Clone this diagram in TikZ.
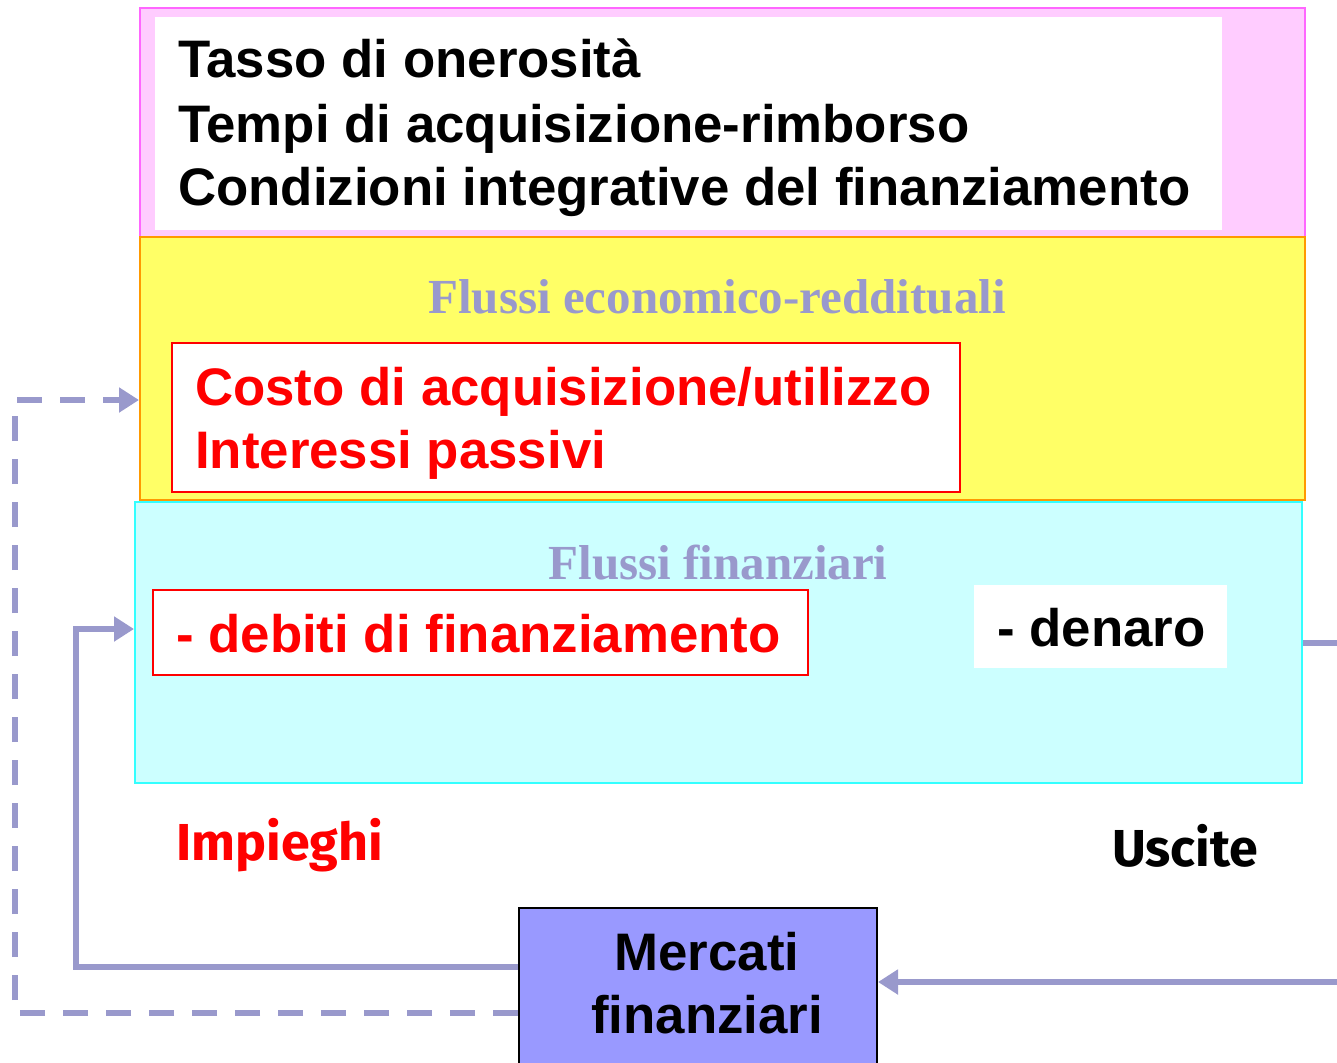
\documentclass[tikz,border=0pt]{standalone}
\usepackage{fontspec}
\setmainfont{Liberation Sans}
\newfontfamily\serifface{Liberation Serif}
\newfontfamily\comicface{Fira Sans}
\usetikzlibrary{arrows.meta}
\definecolor{pinkfill}{HTML}{FFCCFF}
\definecolor{pinkline}{HTML}{FF66FF}
\definecolor{yelfill}{HTML}{FFFF66}
\definecolor{orangeline}{HTML}{FF9900}
\definecolor{cyanfill}{HTML}{CCFFFF}
\definecolor{cyanline}{HTML}{33FFFF}
\definecolor{lav}{HTML}{9999CC}
\definecolor{mktfill}{HTML}{9999FF}
\definecolor{redtxt}{HTML}{FF0000}
\tikzset{
  bigtxt/.style={font=\fontsize{52.8}{60}\selectfont\bfseries, inner sep=0pt, anchor=base west},
  sertxt/.style={font=\fontsize{49}{54}\serifface\bfseries, text=lav, inner sep=0pt, anchor=base},
  comictxt/.style={font=\fontsize{52}{58}\comicface\bfseries, inner sep=0pt, anchor=base west},
  conn/.style={draw=lav, line width=6pt},
  tip/.style={-{Triangle[length=20pt,width=24pt]}},
}
\begin{document}
\begin{tikzpicture}[x=1pt,y=-1pt]
\clip (0,0) rectangle (1337,1062);
\fill[white] (0,0) rectangle (1337,1062);
% pink box
\node[draw=pinkline, fill=pinkfill, line width=2pt, minimum width=1165pt, minimum height=229pt, inner sep=0pt] (pink) at (722.5,122.5) {};
\node[fill=white, minimum width=1067pt, minimum height=213pt, inner sep=0pt] (pinkw) at (688.5,123.5) {};
\node[bigtxt] (t1) at (178,78) {Tasso di onerosità};
\node[bigtxt] (t2) at (178,142) {Tempi di acquisizione-rimborso};
\node[bigtxt] (t3) at (178,205) {Condizioni integrative del finanziamento};
% yellow box
\node[draw=orangeline, fill=yelfill, line width=2pt, minimum width=1165pt, minimum height=263pt, inner sep=0pt] (yel) at (722.5,368.5) {};
\node[sertxt] (fer) at (717,313) {Flussi economico-reddituali};
\node[draw=redtxt, fill=white, line width=2pt, minimum width=788pt, minimum height=149pt, inner sep=0pt] (costo) at (566,417.5) {};
\node[bigtxt, text=redtxt] (c1) at (195,405) {Costo di acquisizione/utilizzo};
\node[bigtxt, text=redtxt] (c2) at (195,468) {Interessi passivi};
% cyan box
\node[draw=cyanline, fill=cyanfill, line width=2pt, minimum width=1167pt, minimum height=281pt, inner sep=0pt] (cyan) at (718.5,642.5) {};
\node[sertxt] (ff) at (718,579) {Flussi finanziari};
\node[draw=redtxt, fill=white, line width=2pt, minimum width=655pt, minimum height=85pt, inner sep=0pt] (debiti) at (480.5,632.5) {};
\node[bigtxt, text=redtxt] (d1) at (176,652) {- debiti di finanziamento};
\node[fill=white, minimum width=253pt, minimum height=83pt, inner sep=0pt] (denaro) at (1100.5,626.5) {};
\node[bigtxt] (d2) at (997,646) {- denaro};
% labels
\node[comictxt, text=redtxt] (imp) at (176,860) {Impieghi};
\node[comictxt] (usc) at (1112,866) {Uscite};
% markets
\node[draw=black, fill=mktfill, line width=2pt, minimum width=358pt, minimum height=170pt, inner sep=0pt] (mkt) at (698,993) {};
\node[font=\fontsize{52.8}{60}\selectfont\bfseries, inner sep=0pt, anchor=base] (m1) at (707,970) {Mercati};
\node[font=\fontsize{52.8}{60}\selectfont\bfseries, inner sep=0pt, anchor=base] (m2) at (707,1033) {finanziari};
% connectors
\coordinate (r1) at (1360,643);
\coordinate (r2) at (1360,982);
\draw[conn, tip] (mkt.west |- 0,967) -| (76,629) -- (cyan.west |- 0,629);
\draw[conn, tip, dash pattern=on 25pt off 18pt] (mkt.west |- 0,1013) -| (15,400) -- (yel.west |- 0,400);
\draw[conn] (cyan.east |- r1) -- (r1) -- (r2);
\draw[conn, tip] (r2) -- (mkt.east |- r2);
\end{tikzpicture}
\end{document}
